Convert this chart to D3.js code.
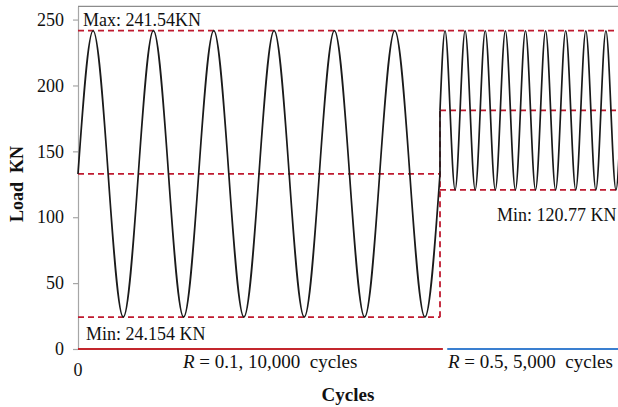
<!DOCTYPE html>
<html>
<head>
<meta charset="utf-8">
<script src="https://cdn.jsdelivr.net/npm/d3@7"></script>
<style>
  html, body { margin: 0; padding: 0; background: #fff; }
  svg { display: block; font-family: "Liberation Serif", "Times New Roman", serif; }
</style>
</head>
<body>
<svg id="chart" width="618" height="407"></svg>
<script>
// ---- data ----
const maxLoad = 241.54;
const minLoad1 = 24.154;
const minLoad2 = 120.77;
const meanLoad1 = 132.85;
const meanLoad2 = 181.15;

// Stage 1 (R = 0.1): turning points (cycles, load)
const cycles1 = [0, 417, 1250, 2083, 2917, 3750, 4583, 5417, 6250, 7083, 7917, 8750, 9583, 10000];
const load1 = [meanLoad1, maxLoad, minLoad1, maxLoad, minLoad1, maxLoad, minLoad1, maxLoad, minLoad1, maxLoad, minLoad1, maxLoad, minLoad1, meanLoad1];

// Stage 2 (R = 0.5): turning points (cycles, load)
const cycles2 = [10000, 10139, 10417, 10694, 10972, 11250, 11528, 11806, 12083, 12361, 12639, 12917, 13194, 13472, 13750, 14028, 14306, 14583, 14861, 15000];
const load2 = [meanLoad2, maxLoad, minLoad2, maxLoad, minLoad2, maxLoad, minLoad2, maxLoad, minLoad2, maxLoad, minLoad2, maxLoad, minLoad2, maxLoad, minLoad2, maxLoad, minLoad2, maxLoad, minLoad2, meanLoad2];

// dashed reference lines: [x0, x1, y0, y1]
const refLines = [
  [0, 15000, maxLoad, maxLoad],
  [0, 10000, meanLoad1, meanLoad1],
  [0, 10000, minLoad1, minLoad1],
  [10000, 15000, meanLoad2, meanLoad2],
  [10000, 15000, minLoad2, minLoad2],
  [10000, 10000, minLoad1, meanLoad2]
];

// stage bars on the baseline
const stageBars = [
  { from: 0, to: 10080, color: "#c3262d" },
  { from: 10200, to: 15000, color: "#3a7fd0" }
];

const yTicks = [0, 50, 100, 150, 200, 250];
const xTicks = [0];
const yDomain = [0, 260];
const xDomain = [0, 15000];

// ---- drawing ----
const svg = d3.select("#chart");
const x = d3.scaleLinear().domain(xDomain).range([78, 621]);
const y = d3.scaleLinear().domain(yDomain).range([349, 6.4]);

const axisGray = "#a6a6a6";
const dashRed = "#bf1a2f";

// top border
svg.append("line")
  .attr("x1", x(0)).attr("x2", 618)
  .attr("y1", y(yDomain[1])).attr("y2", y(yDomain[1]))
  .attr("stroke", "#8c8c8c").attr("stroke-width", 1.2);

// y axis
const yAxis = svg.append("g")
  .attr("transform", `translate(${x(0)},0)`)
  .call(d3.axisLeft(y).tickValues(yTicks).tickSize(5).tickSizeOuter(0).tickPadding(9));
yAxis.select(".domain").attr("stroke", axisGray).attr("stroke-width", 1.2);
yAxis.selectAll(".tick line").attr("stroke", axisGray).attr("stroke-width", 1.2);
yAxis.selectAll(".tick text")
  .attr("font-family", "Liberation Serif, Times New Roman, serif")
  .attr("font-size", 18).attr("fill", "#111");

// x tick label
svg.append("g").selectAll("text").data(xTicks).join("text")
  .attr("x", d => x(d)).attr("y", 376)
  .attr("text-anchor", "middle").attr("font-size", 18).attr("fill", "#111")
  .text(d => d);

// dashed reference lines
svg.append("g").selectAll("line").data(refLines).join("line")
  .attr("x1", d => x(d[0])).attr("x2", d => x(d[1]))
  .attr("y1", d => y(d[2])).attr("y2", d => y(d[3]))
  .attr("stroke", dashRed).attr("stroke-width", 1.8)
  .attr("stroke-dasharray", "6,4");

// waveform
const line = d3.line().x(d => x(d[0])).y(d => y(d[1])).curve(d3.curveMonotoneX);
const pts1 = cycles1.map((c, i) => [c, load1[i]]);
const pts2 = cycles2.map((c, i) => [c, load2[i]]);
svg.append("path").attr("d", line(pts1))
  .attr("fill", "none").attr("stroke", "#1a1a1a").attr("stroke-width", 1.7);
svg.append("path").attr("d", line(pts2))
  .attr("fill", "none").attr("stroke", "#1a1a1a").attr("stroke-width", 1.7);
svg.append("line")
  .attr("x1", x(10000)).attr("x2", x(10000))
  .attr("y1", y(meanLoad1)).attr("y2", y(meanLoad2))
  .attr("stroke", "#1a1a1a").attr("stroke-width", 1.7);

// baseline stage bars
svg.append("g").selectAll("line").data(stageBars).join("line")
  .attr("x1", d => x(d.from)).attr("x2", d => Math.min(618, x(d.to)))
  .attr("y1", y(0)).attr("y2", y(0))
  .attr("stroke", d => d.color).attr("stroke-width", 2);

// annotations
const ann = svg.append("g").attr("font-size", 18).attr("fill", "#111");
ann.append("text").attr("x", 83).attr("y", 26).text("Max: 241.54KN");
ann.append("text").attr("x", 86).attr("y", 340).text("Min: 24.154 KN");
ann.append("text").attr("x", 497).attr("y", 221).text("Min: 120.77 KN");

function stageLabel(xPos, r, n) {
  const t = ann.append("text").attr("x", xPos).attr("y", 368).attr("font-size", 19).attr("xml:space", "preserve");
  t.append("tspan").attr("font-style", "italic").text("R");
  t.append("tspan").text(" = " + r + ", " + n + "  cycles");
}
stageLabel(183, "0.1", "10,000");
stageLabel(448, "0.5", "5,000");

// axis titles
svg.append("text")
  .attr("transform", "translate(23,184) rotate(-90)")
  .attr("text-anchor", "middle").attr("font-weight", "bold").attr("font-size", 18)
  .attr("xml:space", "preserve").attr("fill", "#111")
  .text("Load  KN");
svg.append("text")
  .attr("x", 348).attr("y", 401)
  .attr("text-anchor", "middle").attr("font-weight", "bold").attr("font-size", 19).attr("fill", "#111")
  .text("Cycles");
</script>
</body>
</html>
